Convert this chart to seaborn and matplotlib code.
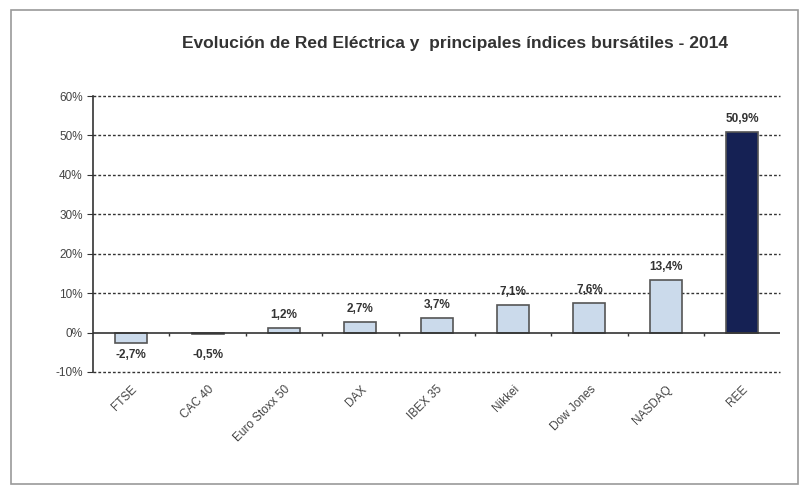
import pandas as pd
import matplotlib.pyplot as plt
import seaborn as sns
from matplotlib.patches import Rectangle

# data
indices = ["FTSE", "CAC 40", "Euro Stoxx 50", "DAX", "IBEX 35",
           "Nikkei", "Dow Jones", "NASDAQ", "REE"]
changes = [-2.7, -0.5, 1.2, 2.7, 3.7, 7.1, 7.6, 13.4, 50.9]
labels = ["-2,7%", "-0,5%", "1,2%", "2,7%", "3,7%", "7,1%", "7,6%", "13,4%", "50,9%"]

df = pd.DataFrame({"indice": indices, "cambio": changes})
df["grupo"] = ["REE" if i == "REE" else "otro" for i in indices]

sns.set_style("white")
plt.rcParams["font.family"] = ["Liberation Sans", "DejaVu Sans"]

fig = plt.figure(figsize=(8.02, 4.9), dpi=100)
ax = fig.add_axes([0.116, 0.241, 0.857, 0.563])

# outer chart frame
fig.patches.append(Rectangle((0.014, 0.012), 0.981, 0.968, transform=fig.transFigure,
                             fill=False, edgecolor="#9a9a9a", linewidth=1.2))

sns.barplot(data=df, x="indice", y="cambio", hue="grupo",
            palette={"otro": "#c6d9f0", "REE": "#0b1a5e"},
            edgecolor="#555555", linewidth=1.2, width=0.42,
            dodge=False, legend=False, ax=ax, zorder=2)

ax.set_xlim(-0.5, len(indices) - 0.5)
ax.set_ylim(-10, 60)
ax.set_yticks(range(-10, 61, 10))
ax.set_yticklabels([f"{t}%" for t in range(-10, 61, 10)], fontsize=8.5, color="#444444")
ax.set_xticks(range(len(indices)))
ax.set_xticklabels(indices, rotation=45, ha="right", rotation_mode="anchor",
                   fontsize=8.5, color="#444444")
ax.set_xlabel("")
ax.set_ylabel("")

# dashed grid lines
for t in range(-10, 61, 10):
    if t != 0:
        ax.axhline(t, color="#333333", linestyle=(0, (2, 1.5)), linewidth=1.0,
                   zorder=0, clip_on=False)
ax.axhline(0, color="#333333", linewidth=1.2, zorder=3)
# small category separators on the zero line
ax.vlines([i + 0.5 for i in range(len(indices) - 1)], -0.8, 0, color="#333333",
          linewidth=1.0, zorder=3)

for s in ["top", "right", "bottom"]:
    ax.spines[s].set_visible(False)
ax.spines["left"].set_color("#333333")
ax.spines["left"].set_linewidth(1.2)
ax.tick_params(axis="y", length=4, color="#333333", direction="out", left=True)
ax.tick_params(axis="x", length=0, pad=8)

for i, (v, lab) in enumerate(zip(changes, labels)):
    if v < 0:
        ax.text(i, -5.6, lab, ha="center", va="center", fontsize=8.5,
                fontweight="bold", color="#333333")
    else:
        ax.text(i, v + 3.3, lab, ha="center", va="center", fontsize=8.5,
                fontweight="bold", color="#333333")

fig.text(0.567, 0.912, "Evolución de Red Eléctrica y  principales índices bursátiles - 2014",
         ha="center", va="center", fontsize=12.5, fontweight="bold", color="#333333")

fig.savefig("out.png", dpi=100)
